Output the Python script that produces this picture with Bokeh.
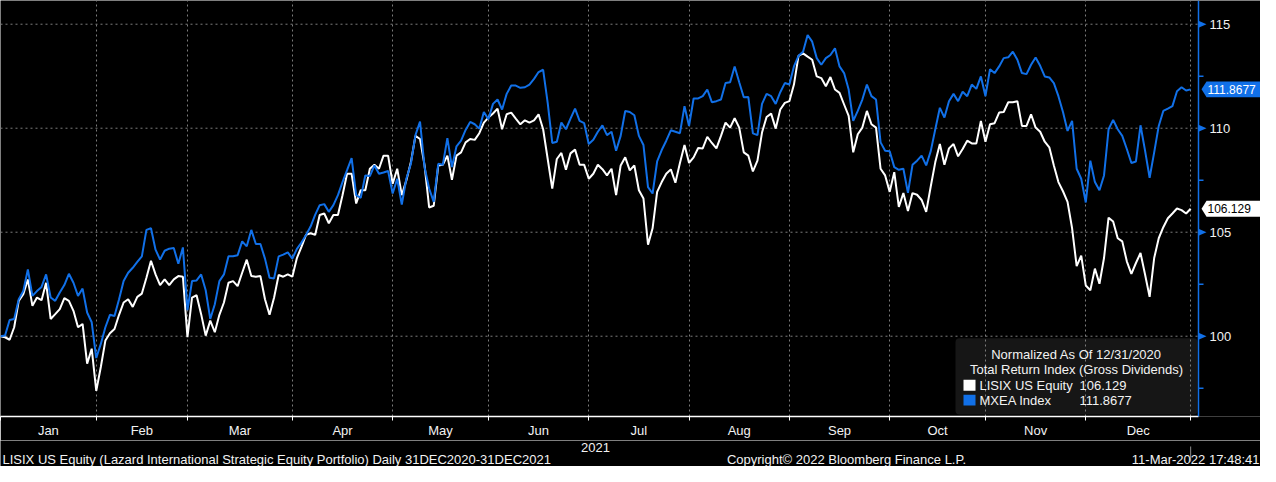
import pandas as pd
from bokeh.plotting import figure
from bokeh.layouts import column
from bokeh.models import Range1d, FixedTicker, Label, BoxAnnotation, Span, ColumnDataSource
from bokeh.core.properties import value
from bokeh.embed import file_html
from bokeh.resources import INLINE

FONT = "Liberation Sans"
FS = "13px"
BLUE = "#1170e8"
GRID = "#7c7c7c"
TXT = "#f2f2f2"

# ---------------- data ----------------
dates = pd.bdate_range("2020-12-31", "2021-12-31")   # weekday axis, 262 points
month_names = ["Jan", "Feb", "Mar", "Apr", "May", "Jun",
               "Jul", "Aug", "Sep", "Oct", "Nov", "Dec"]
year_label = "2021"

lisix = [
    100.00, 99.95, 99.83, 100.43, 101.70, 102.02, 102.73, 101.46, 101.86, 101.73,
    102.57, 100.83, 101.06, 101.30, 101.83, 101.70, 101.22, 100.43, 100.59, 98.68,
    99.40, 97.37, 98.52, 99.79, 100.14, 100.35, 101.03, 101.62, 101.78, 101.41,
    101.89, 102.05, 102.81, 103.63, 102.97, 102.46, 102.73, 102.46, 102.73, 102.89,
    102.86, 99.95, 101.86, 101.97, 101.06, 100.03, 100.75, 100.19, 101.03, 101.62,
    102.57, 102.65, 102.41, 103.05, 103.68, 102.89, 102.86, 102.89, 101.78, 101.03,
    101.86, 102.94, 102.86, 102.97, 102.86, 103.76, 104.30, 104.87, 104.95, 104.87,
    105.83, 105.90, 105.43, 105.83, 105.83, 106.78, 107.81, 107.81, 106.38, 107.02,
    107.02, 108.05, 108.24, 108.05, 108.68, 108.68, 107.33, 108.05, 106.78, 107.49,
    108.37, 109.63, 109.48, 108.21, 106.19, 106.27, 108.21, 108.24, 108.68, 107.52,
    108.68, 108.84, 109.32, 109.48, 109.44, 109.76, 110.27, 110.51, 110.71, 110.94,
    109.95, 110.67, 110.75, 110.46, 110.19, 110.38, 110.27, 110.38, 110.67, 109.95,
    108.52, 107.10, 108.52, 108.81, 108.00, 108.79, 108.97, 108.24, 108.24, 107.57,
    107.81, 108.24, 108.03, 107.73, 108.05, 106.78, 108.21, 108.60, 107.97, 108.21,
    107.02, 106.62, 104.40, 105.19, 106.94, 107.41, 107.81, 108.02, 107.38, 108.33,
    109.19, 108.33, 108.60, 109.05, 109.03, 109.59, 109.29, 109.03, 109.63, 110.27,
    110.03, 110.48, 110.03, 108.84, 108.68, 107.92, 108.44, 109.79, 110.54, 110.70,
    109.98, 110.90, 111.22, 111.30, 112.10, 113.48, 113.60, 113.44, 113.29, 112.49,
    112.41, 112.02, 112.46, 111.86, 111.70, 111.14, 110.59, 108.84, 109.71, 110.03,
    110.83, 110.19, 110.03, 108.05, 107.73, 106.94, 107.89, 106.22, 106.88, 106.02,
    106.88, 106.80, 106.55, 105.98, 107.20, 108.37, 109.24, 108.24, 109.03, 109.24,
    108.65, 109.00, 109.40, 109.27, 109.27, 110.35, 109.35, 110.19, 110.24, 110.75,
    110.78, 111.25, 111.25, 111.30, 110.11, 110.11, 110.67, 110.03, 109.83, 109.35,
    109.08, 108.21, 107.41, 106.97, 106.46, 105.19, 103.37, 103.87, 102.44, 102.21,
    103.25, 102.52, 103.76, 105.70, 105.51, 104.71, 104.56, 103.60, 103.00, 103.52,
    104.00, 102.97, 101.89, 103.76, 104.71, 105.24, 105.67, 105.90, 106.14, 106.06,
    105.90, 106.129,
]

mxea = [
    100.00, 100.03, 100.78, 100.83, 101.78, 102.17, 103.21, 101.94, 102.17, 102.37,
    102.97, 101.86, 101.70, 102.10, 102.46, 103.00, 102.57, 101.94, 102.29, 101.14,
    100.67, 98.95, 99.63, 100.43, 101.03, 100.97, 101.78, 102.65, 103.05, 103.29,
    103.57, 103.84, 105.11, 105.19, 104.16, 103.68, 104.11, 104.21, 104.24, 103.48,
    104.27, 101.25, 102.65, 102.68, 102.97, 102.21, 100.83, 101.54, 102.65, 102.97,
    103.84, 103.84, 103.89, 104.56, 104.32, 105.11, 104.43, 104.43, 103.73, 102.81,
    102.78, 103.84, 103.92, 104.03, 103.73, 104.20, 104.50, 104.87, 105.27, 105.83,
    106.30, 106.35, 105.98, 106.30, 106.78, 107.41, 107.98, 108.56, 106.78, 106.65,
    107.73, 107.70, 108.21, 107.81, 107.87, 107.94, 106.86, 107.57, 106.33, 107.57,
    108.29, 109.67, 110.32, 108.13, 107.10, 106.46, 108.29, 108.24, 109.52, 108.13,
    109.13, 109.40, 109.92, 110.30, 110.19, 109.98, 110.78, 110.43, 111.17, 111.38,
    110.90, 111.65, 112.05, 112.05, 111.94, 111.97, 112.10, 112.37, 112.70, 112.81,
    111.22, 109.29, 109.35, 110.27, 109.95, 110.46, 110.94, 110.35, 110.24, 109.24,
    109.44, 109.83, 110.14, 109.67, 109.83, 108.92, 109.63, 110.83, 110.78, 110.62,
    109.63, 109.19, 107.17, 106.86, 108.40, 108.95, 109.40, 109.90, 109.83, 109.76,
    111.06, 110.11, 111.43, 111.43, 111.54, 111.86, 111.25, 111.30, 111.38, 112.17,
    112.21, 112.97, 112.21, 111.49, 111.50, 109.75, 109.67, 111.17, 111.65, 111.54,
    111.17, 111.73, 112.17, 112.10, 112.97, 113.48, 113.68, 114.48, 114.16, 113.37,
    113.05, 113.37, 113.52, 113.84, 112.97, 112.65, 111.86, 110.35, 110.83, 111.38,
    112.10, 111.54, 111.38, 109.32, 108.92, 108.89, 108.13, 108.00, 108.05, 106.89,
    108.24, 108.44, 108.68, 108.21, 108.90, 109.95, 110.98, 110.51, 111.30, 111.65,
    111.30, 111.75, 111.54, 112.10, 111.89, 112.49, 111.54, 112.84, 112.65, 112.97,
    113.37, 113.41, 113.68, 113.29, 112.65, 112.60, 113.05, 113.40, 113.00, 112.49,
    112.44, 112.17, 111.54, 110.78, 109.87, 110.35, 108.05, 107.57, 106.43, 108.44,
    107.41, 107.02, 107.73, 109.95, 110.40, 109.95, 109.63, 109.00, 108.33, 108.40,
    110.14, 108.92, 107.62, 108.84, 110.11, 110.83, 110.94, 111.06, 111.78, 111.97,
    111.81, 111.8677,
]

y_major = [100, 105, 110, 115]
y_minor = [97.5, 102.5, 107.5, 112.5]
series_names = ["LISIX US Equity", "MXEA Index"]
legend_title = ["Normalized As Of 12/31/2020", "Total Return Index (Gross Dividends)"]
footer_left = "LISIX US Equity (Lazard International Strategic Equity Portfolio)  Daily 31DEC2020-31DEC2021"
footer_mid = "Copyright\u00a9 2022 Bloomberg Finance L.P."
footer_right = "11-Mar-2022 17:48:41"

# ---------------- derived ----------------
n = len(dates)
day = list(range(n))
month_ends = [i for i in range(n) if i == n - 1 or dates[i + 1].month != dates[i].month]
mids = [(a + b) / 2 for a, b in zip(month_ends[:-1], month_ends[1:])]

# ---------------- layout ----------------
W = 1260
H1, H2 = 440, 26          # main chart, footer strip
BB = 20                   # bottom axis panel
FH = H1 - BB              # frame height
PXD = 4.56                # pixels per weekday
XS = 1 / PXD
AX = 1198                 # right axis position (px from left)
X0, X1 = 0, W * XS
X_AX = AX * XS
Y0, Y1 = 96.14, 116.14
YS = (Y1 - Y0) / FH


def xd(px):            # frame px from left -> data x
    return X0 + px * XS


def yd(px):            # frame px from top -> data y
    return Y1 - px * YS


p = figure(width=W, height=H1, x_range=Range1d(X0, X1), y_range=Range1d(Y0, Y1),
           output_backend="svg", toolbar_location=None, y_axis_location=None)
p.background_fill_color = "black"
p.border_fill_color = "black"
p.outline_line_color = None
p.min_border_left = 0
p.min_border_top = 0
p.min_border_right = 0
p.min_border_bottom = BB

# bottom axis
xa = p.xaxis[0]
xa.bounds = (X0, X_AX)
xa.ticker = FixedTicker(ticks=mids, minor_ticks=month_ends)
xa.major_label_overrides = {m: name for m, name in zip(mids, month_names)}
xa.major_tick_line_color = None
xa.major_tick_out = 0
xa.minor_tick_in = 0
xa.minor_tick_out = 4
xa.minor_tick_line_color = "white"
xa.axis_line_color = "white"
xa.axis_line_width = 1.5
xa.major_label_standoff = 2
xa.major_label_text_color = TXT
xa.major_label_text_font = FONT
xa.major_label_text_font_size = FS

# grids
p.xgrid[0].ticker = FixedTicker(ticks=month_ends[1:])
p.xgrid[0].grid_line_color = GRID
p.xgrid[0].grid_line_dash = "2 3"
for g in p.ygrid:
    g.visible = False
p.segment(x0=[X0] * len(y_major), x1=[X_AX] * len(y_major), y0=y_major, y1=y_major,
          line_color=GRID, line_dash="2 3", line_width=1)

# legend box (beneath the grid)
BR = AX - 1
BL, BT, BBm = BR - 242, FH - 79, FH - 2
p.add_layout(BoxAnnotation(left=xd(BL), right=xd(BR), top=yd(BT), bottom=yd(BBm),
                           fill_color="#161616", fill_alpha=1, line_color=None,
                           border_radius=4, level="image"))

# series
src = ColumnDataSource(dict(day=day, lisix=lisix, mxea=mxea))
p.line("day", "lisix", source=src, line_color="white", line_width=2)
p.line("day", "mxea", source=src, line_color=BLUE, line_width=2)

# right-hand value axis
p.add_layout(Span(location=X_AX, dimension="height", line_color=BLUE, line_width=1.5))
p.segment(x0=[X_AX] * len(y_minor), x1=[X_AX + 5 * XS] * len(y_minor),
          y0=y_minor, y1=y_minor, line_color=BLUE, line_width=1.5)
p.patches(xs=[[X_AX, X_AX + 8 * XS, X_AX] for _ in y_major],
          ys=[[t + 3.5 * YS, t, t - 3.5 * YS] for t in y_major],
          fill_color=BLUE, line_color=None)
p.text(x=[X_AX + 11 * XS] * len(y_major), y=y_major, text=[str(t) for t in y_major],
       text_color=TXT, text_font=value(FONT), text_font_size=FS,
       text_align="left", text_baseline="middle")

# last-value tags
tag_vals = [mxea[-1], lisix[-1]]
tag_fill = [BLUE, "white"]
tag_text_col = ["white", "black"]
p.patches(xs=[[X_AX + 3 * XS, X_AX + 8 * XS, X1, X1, X_AX + 8 * XS] for _ in tag_vals],
          ys=[[v, v + 8 * YS, v + 8 * YS, v - 8 * YS, v - 8 * YS] for v in tag_vals],
          fill_color=tag_fill, line_color=None)
p.text(x=[X_AX + 9 * XS] * 2, y=tag_vals, text=[str(v) for v in tag_vals],
       text_color=tag_text_col, text_font=value(FONT), text_font_size="12px",
       text_align="left", text_baseline="middle")

# legend contents
cx = (BL + BR) / 2
for k, line in enumerate(legend_title):
    p.add_layout(Label(x=xd(cx), y=yd(BT + 16 + 16 * k), text=line, text_color=TXT,
                       text_font=FONT, text_font_size=FS,
                       text_align="center", text_baseline="middle"))
for k, (name, vals, col) in enumerate([(series_names[0], lisix, "white"),
                                       (series_names[1], mxea, BLUE)]):
    ry = BT + 48 + 15 * k
    p.add_layout(BoxAnnotation(left=xd(BL + 8), right=xd(BL + 20),
                               top=yd(ry - 6), bottom=yd(ry + 5),
                               fill_color=col, fill_alpha=1, line_color=None))
    p.add_layout(Label(x=xd(BL + 24), y=yd(ry), text=name, text_color=TXT,
                       text_font=FONT, text_font_size=FS,
                       text_align="left", text_baseline="middle"))
    p.add_layout(Label(x=xd(BL + 124), y=yd(ry), text=str(vals[-1]), text_color=TXT,
                       text_font=FONT, text_font_size=FS,
                       text_align="left", text_baseline="middle"))

# ---------------- footer strip ----------------
f = figure(width=W, height=H2, x_range=Range1d(0, W), y_range=Range1d(0, H2),
           output_backend="svg", toolbar_location=None,
           x_axis_location=None, y_axis_location=None, min_border=0)
f.background_fill_color = "black"
f.border_fill_color = "black"
f.outline_line_color = None
for g in f.grid:
    g.visible = False
year_x = (month_ends[0] + month_ends[-1]) / 2 / XS
end_x = month_ends[-1] / XS
f.segment(x0=[end_x], x1=[end_x], y0=[5], y1=[20], line_color="#8c8c8c", line_width=1)
f.text(x=[year_x], y=[H2 - 7], text=[year_label], text_color=TXT,
       text_font=value(FONT), text_font_size=FS, text_align="center", text_baseline="middle")
for txt, x, al in [(footer_left, 2, "left"), (footer_mid, 846, "center"),
                   (footer_right, W - 1, "right")]:
    f.text(x=[x], y=[7], text=[txt], text_color=TXT, text_font=value(FONT),
           text_font_size=FS, text_align=al, text_baseline="middle")

layout = column(p, f, spacing=0)
open("out.html", "w").write(file_html(layout, INLINE))
